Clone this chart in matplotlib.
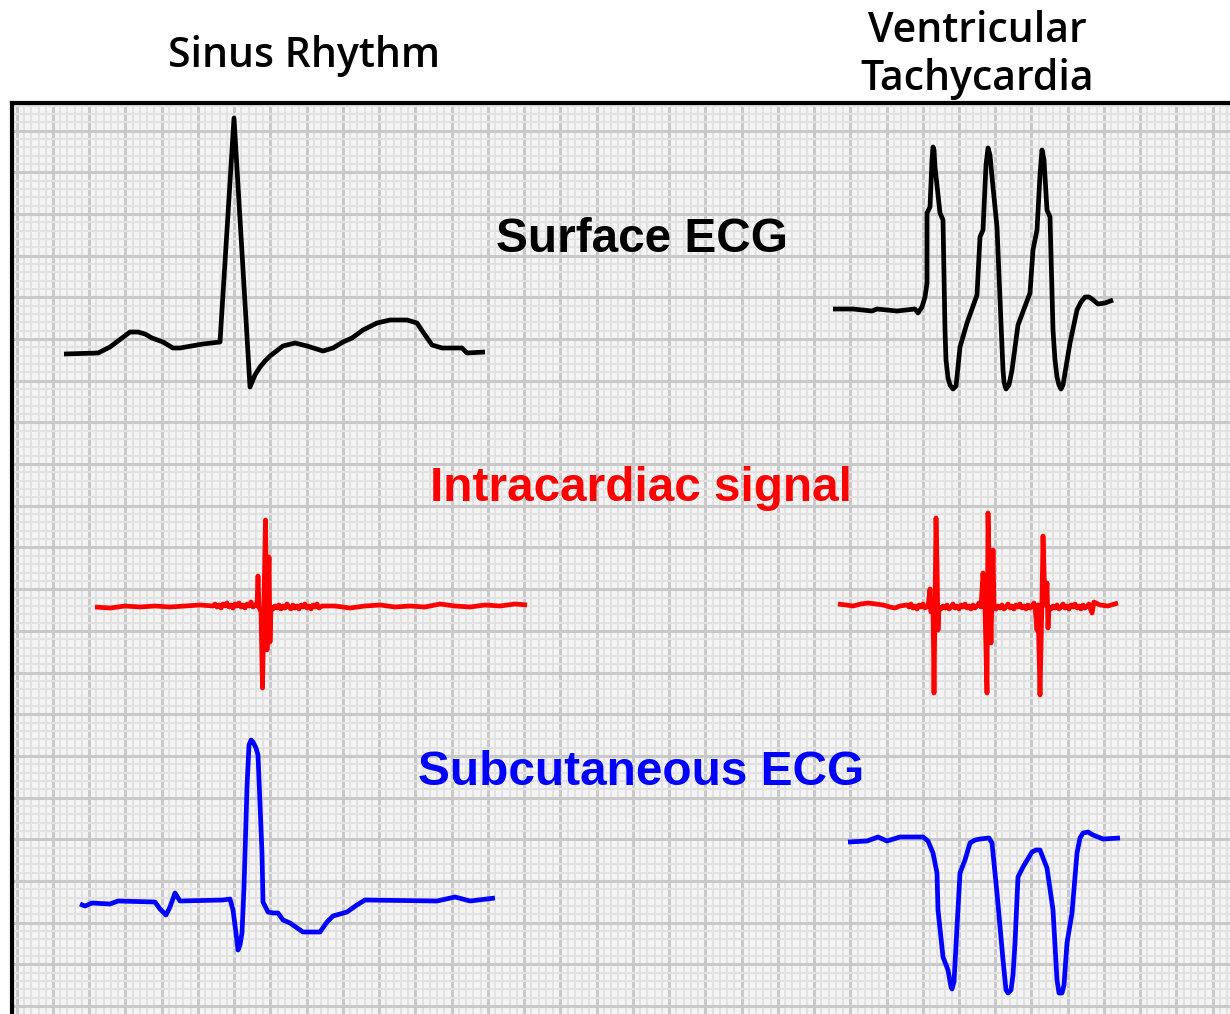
import numpy as np
import matplotlib
matplotlib.use("Agg")
import matplotlib.pyplot as plt

sr_ecg_x = [64, 98, 110, 122, 130, 138, 145, 152, 163, 173, 180, 203, 220, 234, 250, 255, 260, 265, 270,
            283, 295, 307, 323, 333, 343, 352, 363, 377, 390, 407, 417, 423, 432, 442, 462, 467, 485]
sr_ecg_y = [354, 353, 347, 338, 332, 332, 334, 338, 342, 348, 348, 344, 342, 118, 387, 375, 367, 361, 356,
            346, 343, 346, 351, 348, 342, 338, 330, 323, 320, 320, 323, 332, 345, 348, 348, 353, 352]

vt_ecg_x = [833, 853, 872, 877, 897, 915, 918, 922, 925, 927, 927, 930, 932, 933, 934, 935, 940, 943, 945,
            946, 948, 950, 953, 956, 957, 960, 967, 977, 980, 983, 986, 988, 990, 992, 997, 1002, 1003,
            1004, 1006, 1009, 1012, 1018, 1030, 1033, 1037, 1040, 1042, 1044, 1047, 1050, 1053, 1055,
            1057, 1059, 1061, 1063, 1065, 1070, 1077, 1081, 1085, 1089, 1092, 1098, 1105, 1113]
vt_ecg_y = [309, 309, 311, 309, 311, 309, 313, 307, 297, 283, 213, 207, 160, 147, 150, 167, 213, 220, 330,
            360, 378, 385, 389, 386, 377, 347, 323, 295, 237, 230, 165, 148, 155, 177, 227, 347, 370,
            382, 389, 385, 370, 325, 293, 250, 230, 175, 150, 160, 210, 217, 330, 360,
            377, 385, 389, 385, 373, 343, 310, 302, 297, 297, 299, 304, 303, 300]

sr_ic_x = [95, 110, 125, 140, 155, 170, 185, 200, 213,
           215, 217, 219, 221, 223, 225, 227, 229, 231, 233, 235, 237, 239, 241, 243, 245, 247,
           249, 251, 253, 255,
           257, 258, 259, 261, 262.5, 264, 265.5, 267, 268, 269, 270, 271,
           273, 275, 277, 279, 281, 283, 285, 287, 289, 291, 293, 295, 297, 299, 301, 303, 305,
           307, 309, 311, 313, 315, 317, 319,
           322, 335, 350, 365, 380, 395, 410, 425, 440, 455, 470, 485, 500, 515, 527]
sr_ic_y = [607, 608, 606, 607, 606, 607, 606, 605, 606,
           604, 607, 605, 608, 604, 606, 603, 607, 605, 608, 604, 606, 603, 607, 605, 608, 604,
           606, 602, 607, 605,
           606, 576, 607, 612, 688, 600, 520, 650, 600, 557, 642, 607,
           609, 606, 608, 605, 609, 606, 608, 604, 607, 609, 605, 608, 606, 609, 605, 607, 604,
           608, 606, 609, 605, 607, 604, 608,
           606, 606, 608, 606, 605, 607, 606, 607, 604, 606, 607, 605, 606, 604, 605]

vt_ic_x = [838, 846, 853, 861, 868, 876, 883, 890, 895, 900, 907,
           909, 911, 913, 915, 917, 919, 921, 923, 925, 927, 928,
           930, 931, 933, 934, 935, 936, 937, 938, 939,
           941, 943, 945, 947, 949, 951, 953, 955, 957, 959, 961, 963, 965, 967, 969, 971, 973,
           975, 977, 979, 981,
           983, 985, 987, 988, 990, 991, 993, 994,
           996, 998, 1000, 1002, 1004, 1006, 1008, 1010, 1012, 1014, 1016, 1018, 1020, 1022,
           1024, 1026, 1028, 1030, 1032, 1034, 1035,
           1037, 1038, 1040, 1042, 1043, 1045, 1047, 1048, 1049,
           1051, 1053, 1055, 1057, 1059, 1061, 1063, 1065, 1067, 1069, 1071, 1073, 1075, 1077,
           1079, 1081, 1083, 1085, 1087, 1089, 1090,
           1091, 1092, 1094, 1100, 1108, 1118]
vt_ic_y = [604, 605, 606, 604, 603, 604, 605, 607, 608, 606, 605,
           607, 604, 608, 606, 609, 605, 607, 604, 608, 606, 607,
           589, 612, 600, 693, 605, 518, 562, 630, 607,
           609, 606, 608, 605, 609, 607, 604, 608, 606, 609, 605, 607, 604, 608, 606, 609, 605,
           608, 606, 603, 607,
           573, 610, 693, 513, 600, 643, 550, 607,
           609, 606, 608, 605, 609, 607, 604, 608, 606, 609, 605, 607, 604, 608,
           606, 609, 605, 608, 606, 603, 607,
           630, 605, 695, 600, 536, 605, 583, 628, 607,
           609, 606, 608, 605, 609, 607, 604, 608, 606, 609, 605, 607, 604, 608,
           606, 609, 605, 608, 606, 604, 608,
           610, 613, 602, 605, 606, 603]

sr_sc_x = [80, 85, 92, 110, 118, 155, 160, 166, 170, 175, 180, 223, 230, 233, 236, 238, 240, 242,
           244, 247, 249, 251, 253, 256, 258, 262, 263, 268, 273, 278, 283, 290, 303, 320, 327, 333,
           347, 357, 365, 437, 455, 470, 495]
sr_sc_y = [904, 906, 903, 904, 901, 902, 909, 915, 907, 893, 901, 900, 899, 910, 933, 950, 945, 933,
           887, 787, 745, 740, 742, 748, 755, 853, 902, 912, 913, 913, 920, 923, 932, 932, 922, 916,
           912, 905, 900, 901, 897, 901, 898]

vt_sc_x = [848, 867, 878, 887, 900, 923, 928, 933, 937, 938, 943, 948, 951, 952, 954, 957, 960, 965,
           970, 975, 980, 989, 992, 997, 1003, 1006, 1008, 1011, 1013, 1015, 1018, 1023, 1032, 1036,
           1040, 1047, 1053, 1057, 1059, 1062, 1064, 1067, 1072, 1077, 1080, 1083, 1088, 1093,
           1103, 1120]
vt_sc_y = [842, 841, 837, 841, 837, 837, 841, 853, 873, 910, 957, 970, 987, 989, 982, 927, 873, 860,
           843, 840, 839, 838, 843, 893, 960, 990, 993, 990, 975, 943, 877, 867, 852, 850,
           850, 868, 910, 980, 993, 993, 985, 943, 913, 853, 838, 833, 832, 835,
           839, 838]

W, H = 1230, 1014
fig = plt.figure(figsize=(W / 100, H / 100), dpi=100)
x0, y0 = 12, 103
ax = fig.add_axes([x0 / W, 0, 1 - x0 / W, 1 - y0 / H])
ax.set_facecolor("#f4f4f4")

# ECG paper grid
dx, dy = 36.24, 41.68
ax.set_xticks(np.arange(53 - dx, W, dx))
ax.set_yticks(np.arange(130.7, H, dy))
ax.set_xticks(np.arange(53 - dx, W, dx / 5), minor=True)
ax.set_yticks(np.arange(130.7 - 3 * dy / 5, H, dy / 5), minor=True)
ax.grid(which="minor", color="#e2e2e2", lw=1.5)
ax.grid(which="major", color="#c9c9c9", lw=2.2)
ax.tick_params(which="both", length=0, labelleft=False, labelbottom=False)
ax.set_axisbelow(True)
ax.set_xlim(x0, W)
ax.set_ylim(H, y0)
for s in ["right", "bottom"]:
    ax.spines[s].set_visible(False)
for s in ["left", "top"]:
    ax.spines[s].set_linewidth(3)
    ax.spines[s].set_color("black")

kw = dict(lw=3.4, solid_joinstyle="round", solid_capstyle="butt")
ax.plot(sr_ecg_x, sr_ecg_y, color="black", **kw)
ax.plot(vt_ecg_x, vt_ecg_y, color="black", **kw)
ax.plot(sr_ic_x, sr_ic_y, color="#ff0000", **kw)
ax.plot(vt_ic_x, vt_ic_y, color="#ff0000", **kw)
ax.plot(sr_sc_x, sr_sc_y, color="#0000ff", **kw)
ax.plot(vt_sc_x, vt_sc_y, color="#0000ff", **kw)

tfont = dict(family="Open Sans", fontweight="semibold", fontsize=29.5, ha="center", va="center")
ax.text(304, 56, "Sinus Rhythm", clip_on=False, **tfont)
ax.text(977, 55, "Ventricular\nTachycardia", clip_on=False, linespacing=1.2, **tfont)

lfont = dict(family="Liberation Sans", fontweight="bold", fontsize=34.4, ha="center", va="center")
ax.text(642, 240, "Surface ECG", color="black", **lfont)
ax.text(641, 489, "Intracardiac signal", color="#ff0000", **lfont)
ax.text(641, 773, "Subcutaneous ECG", color="#0000ff", **lfont)

fig.savefig("out.png", dpi=100)
